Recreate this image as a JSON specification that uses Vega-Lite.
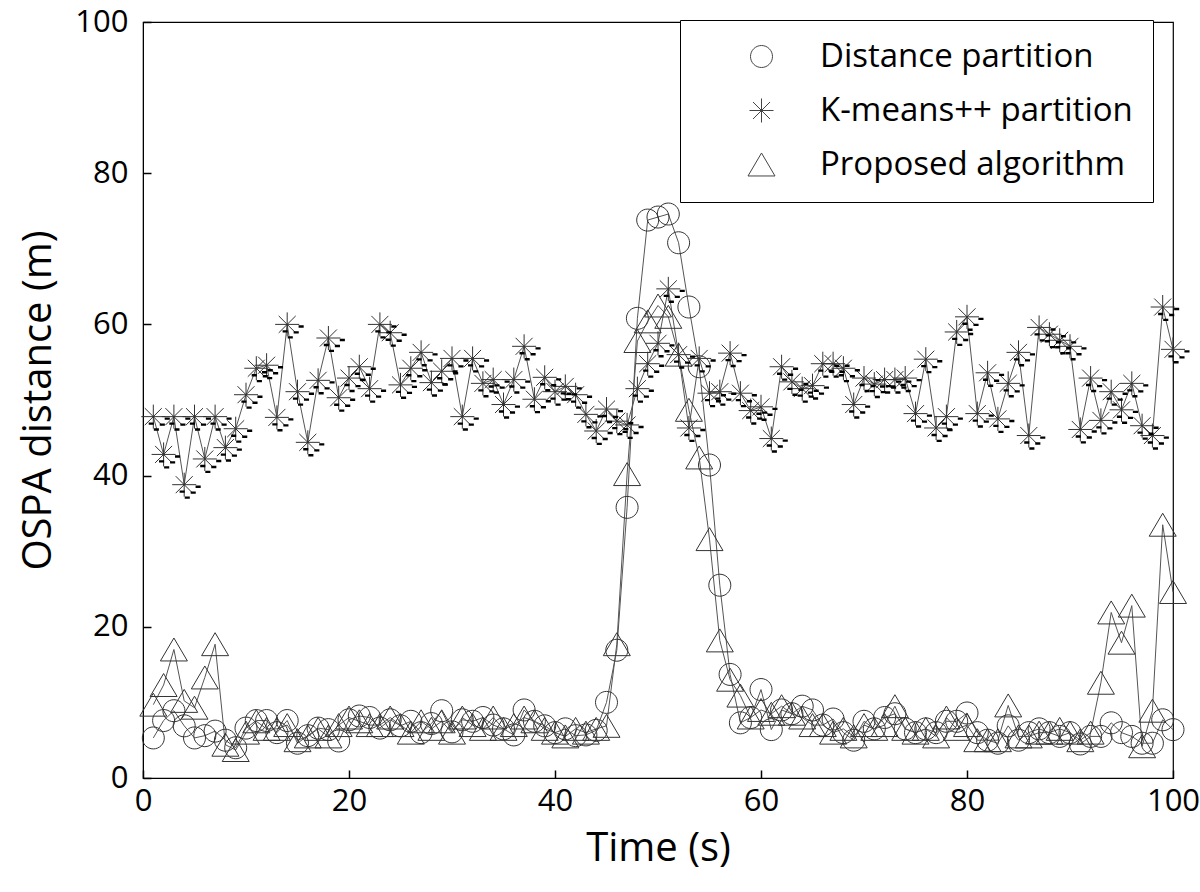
{
  "$schema": "https://vega.github.io/schema/vega-lite/v6.json",
  "autosize": "none",
  "width": 1030,
  "height": 756,
  "padding": {"left": 143, "top": 22, "right": 27, "bottom": 114},
  "background": "white",
  "config": {
    "view": {"stroke": "#000", "strokeWidth": 1.2},
    "font": "Open Sans",
    "axis": {
      "domainColor": "#000",
      "tickColor": "#000",
      "labelColor": "#000",
      "titleColor": "#000",
      "labelFont": "Open Sans",
      "titleFont": "Open Sans",
      "labelFontSize": 31,
      "titleFontSize": 40,
      "titleFontWeight": "normal",
      "grid": false,
      "tickSize": -8,
      "tickWidth": 1.5
    },
    "legend": {
      "labelFont": "Open Sans",
      "labelFontSize": 33,
      "labelColor": "#000",
      "labelLimit": 500
    }
  },
  "data": {
    "values": [
      {"t":1,"D":5.3,"K":47.8,"P":9.7},
      {"t":2,"D":7.6,"K":42.8,"P":12.3},
      {"t":3,"D":8.9,"K":47.8,"P":17.0},
      {"t":4,"D":6.9,"K":38.8,"P":10.2},
      {"t":5,"D":5.3,"K":47.8,"P":9.3},
      {"t":6,"D":5.6,"K":42.2,"P":13.3},
      {"t":7,"D":6.2,"K":47.8,"P":17.7},
      {"t":8,"D":5.0,"K":43.7,"P":4.4},
      {"t":9,"D":4.0,"K":46.2,"P":3.7},
      {"t":10,"D":6.6,"K":50.7,"P":6.0},
      {"t":11,"D":7.6,"K":54.2,"P":7.5},
      {"t":12,"D":7.6,"K":54.6,"P":6.5},
      {"t":13,"D":6.0,"K":47.7,"P":6.5},
      {"t":14,"D":7.6,"K":60.0,"P":7.0},
      {"t":15,"D":4.6,"K":51.1,"P":5.0},
      {"t":16,"D":5.6,"K":44.4,"P":5.5},
      {"t":17,"D":6.6,"K":52.6,"P":6.5},
      {"t":18,"D":6.4,"K":58.2,"P":5.5},
      {"t":19,"D":4.9,"K":50.3,"P":7.0},
      {"t":20,"D":7.7,"K":52.9,"P":8.0},
      {"t":21,"D":8.2,"K":54.4,"P":7.5},
      {"t":22,"D":8.0,"K":51.5,"P":7.0},
      {"t":23,"D":6.6,"K":60.0,"P":7.0},
      {"t":24,"D":7.7,"K":58.9,"P":8.0},
      {"t":25,"D":6.9,"K":52.0,"P":7.0},
      {"t":26,"D":7.5,"K":54.2,"P":6.0},
      {"t":27,"D":6.0,"K":56.3,"P":7.5},
      {"t":28,"D":7.2,"K":52.3,"P":6.5},
      {"t":29,"D":8.9,"K":53.8,"P":7.5},
      {"t":30,"D":6.1,"K":55.5,"P":6.0},
      {"t":31,"D":7.7,"K":47.8,"P":8.0},
      {"t":32,"D":7.5,"K":55.5,"P":7.0},
      {"t":33,"D":8.0,"K":52.2,"P":6.5},
      {"t":34,"D":7.0,"K":52.7,"P":8.0},
      {"t":35,"D":6.5,"K":49.4,"P":6.5},
      {"t":36,"D":5.7,"K":52.7,"P":7.0},
      {"t":37,"D":9.0,"K":57.1,"P":8.0},
      {"t":38,"D":7.5,"K":50.1,"P":7.5},
      {"t":39,"D":6.9,"K":53.0,"P":6.5},
      {"t":40,"D":6.0,"K":51.1,"P":6.0},
      {"t":41,"D":6.5,"K":51.8,"P":5.5},
      {"t":42,"D":5.6,"K":50.7,"P":6.5},
      {"t":43,"D":5.7,"K":48.1,"P":6.0},
      {"t":44,"D":6.3,"K":45.9,"P":6.5},
      {"t":45,"D":10.0,"K":48.8,"P":6.9},
      {"t":46,"D":16.9,"K":47.2,"P":17.7},
      {"t":47,"D":35.8,"K":46.7,"P":40.2},
      {"t":48,"D":60.8,"K":51.5,"P":57.8},
      {"t":49,"D":73.8,"K":54.8,"P":60.4},
      {"t":50,"D":74.2,"K":57.5,"P":62.5},
      {"t":51,"D":74.6,"K":64.7,"P":61.0},
      {"t":52,"D":70.8,"K":56.0,"P":56.0},
      {"t":53,"D":62.3,"K":46.3,"P":48.7},
      {"t":54,"D":54.4,"K":55.5,"P":42.4},
      {"t":55,"D":41.4,"K":50.9,"P":31.6},
      {"t":56,"D":25.5,"K":51.1,"P":18.2},
      {"t":57,"D":13.7,"K":56.2,"P":13.0},
      {"t":58,"D":7.3,"K":50.9,"P":10.9},
      {"t":59,"D":8.0,"K":48.6,"P":8.0},
      {"t":60,"D":11.7,"K":49.1,"P":9.0},
      {"t":61,"D":6.4,"K":44.9,"P":8.5},
      {"t":62,"D":9.0,"K":54.4,"P":9.5},
      {"t":63,"D":8.5,"K":52.4,"P":8.5},
      {"t":64,"D":9.5,"K":51.5,"P":8.0},
      {"t":65,"D":9.0,"K":51.9,"P":7.0},
      {"t":66,"D":7.0,"K":54.8,"P":7.0},
      {"t":67,"D":7.8,"K":54.8,"P":6.0},
      {"t":68,"D":6.0,"K":54.2,"P":6.5},
      {"t":69,"D":5.0,"K":49.4,"P":5.5},
      {"t":70,"D":7.5,"K":52.9,"P":7.0},
      {"t":71,"D":6.5,"K":52.1,"P":6.5},
      {"t":72,"D":8.0,"K":52.7,"P":7.0},
      {"t":73,"D":8.5,"K":52.7,"P":9.5},
      {"t":74,"D":6.5,"K":52.9,"P":6.5},
      {"t":75,"D":6.0,"K":48.2,"P":6.0},
      {"t":76,"D":6.5,"K":55.4,"P":6.5},
      {"t":77,"D":6.0,"K":46.3,"P":5.5},
      {"t":78,"D":7.5,"K":47.8,"P":8.0},
      {"t":79,"D":7.5,"K":59.0,"P":6.5},
      {"t":80,"D":8.6,"K":61.0,"P":7.0},
      {"t":81,"D":6.0,"K":48.2,"P":5.0},
      {"t":82,"D":5.0,"K":53.6,"P":5.0},
      {"t":83,"D":4.6,"K":47.5,"P":5.0},
      {"t":84,"D":6.9,"K":52.2,"P":9.6},
      {"t":85,"D":5.0,"K":56.3,"P":5.5},
      {"t":86,"D":6.0,"K":45.3,"P":5.5},
      {"t":87,"D":6.5,"K":59.6,"P":6.0},
      {"t":88,"D":6.0,"K":58.7,"P":6.0},
      {"t":89,"D":5.5,"K":57.9,"P":6.5},
      {"t":90,"D":6.0,"K":57.1,"P":6.0},
      {"t":91,"D":4.5,"K":46.1,"P":5.0},
      {"t":92,"D":5.5,"K":52.9,"P":6.0},
      {"t":93,"D":5.5,"K":47.3,"P":12.6},
      {"t":94,"D":7.3,"K":51.1,"P":21.9},
      {"t":95,"D":6.0,"K":48.7,"P":17.9},
      {"t":96,"D":5.5,"K":52.2,"P":22.8},
      {"t":97,"D":4.6,"K":46.6,"P":4.2},
      {"t":98,"D":4.6,"K":45.3,"P":8.9},
      {"t":99,"D":7.7,"K":62.3,"P":33.5},
      {"t":100,"D":6.4,"K":56.7,"P":24.6}
    ]
  },
  "transform": [
    {"fold": ["D", "K", "P"], "as": ["code", "v"]},
    {"lookup": "code", "from": {"data": {"values": [
      {"code": "D", "series": "Distance partition"},
      {"code": "K", "series": "K-means++ partition"},
      {"code": "P", "series": "Proposed algorithm"}
    ]}, "key": "code", "fields": ["series"]}}
  ],
  "encoding": {
    "x": {
      "field": "t", "type": "quantitative",
      "scale": {"domain": [0, 100], "nice": false, "zero": false},
      "axis": {"values": [0, 20, 40, 60, 80, 100], "title": "Time (s)", "labelPadding": 16, "titlePadding": 12, "labelFlush": false}
    },
    "y": {
      "field": "v", "type": "quantitative",
      "scale": {"domain": [0, 100], "nice": false},
      "axis": {"values": [0, 20, 40, 60, 80, 100], "title": "OSPA distance (m)", "labelPadding": 23, "titlePadding": 16}
    }
  },
  "layer": [
    {
      "mark": {"type": "line", "color": "#555", "strokeWidth": 1},
      "encoding": {"detail": {"field": "series"}}
    },
    {
      "mark": {"type": "point", "filled": false, "color": "#333", "strokeWidth": 1, "opacity": 1, "size": 729},
      "encoding": {
        "shape": {
          "field": "series", "type": "nominal",
          "scale": {
            "domain": ["Distance partition", "K-means++ partition", "Proposed algorithm"],
            "range": [
              "M-0.815,0A0.815,0.815,0,1,0,0.815,0A0.815,0.815,0,1,0,-0.815,0Z",
              "M-0.89,0L0.89,0M0,-0.89L0,0.89M-0.63,-0.63L0.63,0.63M-0.63,0.63L0.63,-0.63",
              "M0,-0.85L1,0.85L-1,0.85Z"
            ]
          },
          "legend": {
            "title": null,
            "orient": "none",
            "legendX": 537,
            "legendY": -2,
            "padding": 20,
            "symbolOffset": 45,
            "labelOffset": 42,
            "rowPadding": 20,
            "strokeColor": "#000",
            "fillColor": "white",
            "symbolStrokeColor": "#444",
            "symbolStrokeWidth": 1,
            "symbolSize": 729,
            "symbolFillColor": "transparent"
          }
        }
      }
    },
    {
      "transform": [{"filter": "datum.code === 'K'"}],
      "mark": {
        "type": "point", "filled": true, "color": "#000", "opacity": 1, "size": 1156, "strokeWidth": 0,
        "shape": "M0.67,0.05H0.97V0.19H0.67Z M-0.27,0.34H0.03V0.48H-0.27Z M0.38,0.40H0.68V0.54H0.38Z M0.03,0.69H0.33V0.83H0.03Z"
      }
    }
  ]
}
